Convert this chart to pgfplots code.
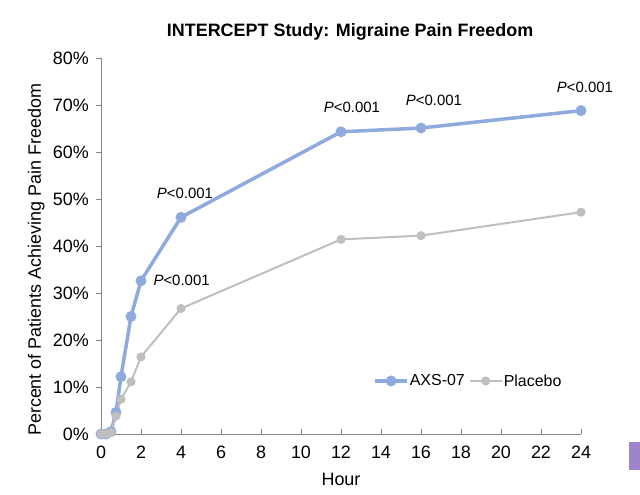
\documentclass[border=0pt]{standalone}
\usepackage{pgfplots}
\pgfplotsset{compat=1.18}
\usepackage{fontspec}
\setmainfont{Liberation Sans}
\definecolor{axsblue}{HTML}{8FAADC}
\definecolor{plgray}{HTML}{BFBFBF}
\definecolor{axgray}{HTML}{868686}
\definecolor{barpurple}{HTML}{9E84C8}
\begin{document}
\begin{tikzpicture}
\path[use as bounding box] (-101bp,-61bp) rectangle (539bp,434bp);
\begin{axis}[
  at={(0,0)}, anchor=origin,
  scale only axis, width=480bp, height=376bp,
  xmin=0, xmax=24, ymin=0, ymax=80,
  axis x line*=bottom, axis y line*=left,
  axis line style={axgray, line width=0.9bp},
  xtick={0,2,...,24}, ytick={0,10,...,80},
  yticklabel={\pgfmathprintnumber{\tick}\%},
  tick align=inside, major tick length=5bp,
  tick style={axgray, line width=0.9bp},
  ytick style={xshift=-5bp},
  /pgf/number format/assume math mode=true,
  tick label style={font=\fontsize{18}{20}\selectfont},
  xticklabel style={anchor=center, yshift=-18.5bp},
  yticklabel style={anchor=east, xshift=-12bp, inner sep=0pt},
  clip=false,
  title={\textbf{INTERCEPT Study: Migraine Pain Freedom}},
  title style={font=\fontsize{18}{21}\selectfont, at={(axis description cs:0.519,1.053)}, anchor=center},
  xlabel={Hour},
  xlabel style={font=\fontsize{18}{21}\selectfont, at={(axis description cs:0.5,-0.122)}, anchor=center},
  ylabel={Percent of Patients Achieving Pain Freedom},
  ylabel style={font=\fontsize{18}{21}\selectfont, at={(axis description cs:-0.135,0.463)}, anchor=center},
  legend style={at={(axis description cs:0.567,0.141)}, anchor=west, draw=none, fill=none,
    legend columns=2, font=\fontsize{16}{18}\selectfont, inner sep=0pt,
    nodes={inner sep=1bp},
    /tikz/every even column/.append style={column sep=3bp}},
  legend image code/.code={\draw[mark repeat=2, mark phase=2] plot coordinates {(0bp,0bp) (16bp,0bp) (32bp,0bp)};},
  legend cell align=left,
]
\addplot[axsblue, line width=3.5bp, mark=*, mark size=3.6bp, mark options={solid}] coordinates {
 (0,0) (0.25,0) (0.5,0.5) (0.75,4.6) (1,12.2) (1.5,25.0) (2,32.6) (4,46.1) (12,64.3) (16,65.1) (24,68.8)};
\addlegendentry{AXS-07}
\addplot[plgray, line width=2bp, mark=*, mark size=3.5bp, mark options={solid}] coordinates {
 (0,0) (0.25,0) (0.5,0.3) (0.75,3.8) (1,7.4) (1.5,11.1) (2,16.4) (4,26.7) (12,41.4) (16,42.2) (24,47.2)};
\addlegendentry{Placebo}
\node[font=\fontsize{15}{17}\selectfont, anchor=center] at (axis cs:4.2,51.3) {\textit{P}<0.001};
\node[font=\fontsize{15}{17}\selectfont, anchor=center] at (axis cs:4.03,32.6) {\textit{P}<0.001};
\node[font=\fontsize{15}{17}\selectfont, anchor=center] at (axis cs:12.55,69.6) {\textit{P}<0.001};
\node[font=\fontsize{15}{17}\selectfont, anchor=center] at (axis cs:16.65,70.9) {\textit{P}<0.001};
\node[font=\fontsize{15}{17}\selectfont, anchor=center] at (axis cs:24.2,73.8) {\textit{P}<0.001};
\end{axis}
\fill[barpurple] (528bp,-36bp) rectangle (539bp,-8bp);
\end{tikzpicture}
\end{document}
